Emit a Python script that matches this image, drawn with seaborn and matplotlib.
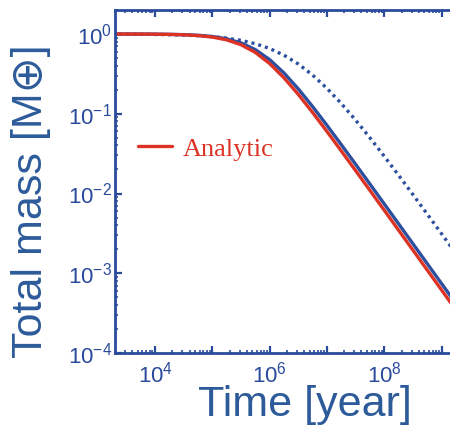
import matplotlib
matplotlib.use("Agg")
import matplotlib.pyplot as plt
import seaborn as sns
import pandas as pd
from matplotlib.ticker import FixedLocator, LogLocator, NullFormatter, FuncFormatter

# ---- data ----
time_year = [1.778e3, 3.162e3, 5.623e3, 1.0e4, 1.778e4, 3.162e4, 5.623e4,
             1.0e5, 1.778e5, 3.162e5, 5.623e5, 1.0e6, 1.778e6, 3.162e6,
             5.623e6, 1.0e7, 1.778e7, 3.162e7, 5.623e7, 1.0e8, 1.778e8,
             3.162e8, 5.623e8, 1.0e9, 1.778e9]
mass_analytic = [0.9993, 0.9985, 0.9970, 0.9941, 0.9883, 0.9770, 0.9553,
                 0.9150, 0.8445, 0.7342, 0.5870, 0.4257, 0.2821, 0.1748,
                 0.1036, 0.05990, 0.03418, 0.01935, 0.01092, 0.006156,
                 0.003464, 0.001949, 0.001096, 0.0006164, 0.0003467]
mass_solid = [0.9994, 0.9988, 0.9976, 0.9953, 0.9906, 0.9815, 0.9638,
              0.9304, 0.8710, 0.7739, 0.6370, 0.4769, 0.3246, 0.2049,
              0.1229, 0.07152, 0.04094, 0.02323, 0.01312, 0.007396,
              0.004164, 0.002343, 0.001318, 0.0007413, 0.0004168]
mass_dotted = [0.9969, 0.9950, 0.9922, 0.9876, 0.9805, 0.9695, 0.9524,
               0.9264, 0.8877, 0.8320, 0.7555, 0.6577, 0.5425, 0.4204,
               0.3050, 0.2080, 0.1344, 0.08318, 0.04990, 0.02929,
               0.01693, 0.009696, 0.005515, 0.003124, 0.001764]
x_tick_values = [1e4, 1e6, 1e8]
x_tick_labels = ["10$^{4}$", "10$^{6}$", "10$^{8}$"]
y_tick_values = [1e-4, 1e-3, 1e-2, 1e-1, 1e0]
y_tick_labels = ["10$^{\u22124}$", "10$^{\u22123}$", "10$^{\u22122}$", "10$^{\u22121}$", "10$^{0}$"]

df = pd.DataFrame({"time": time_year, "analytic": mass_analytic,
                   "solid": mass_solid, "dotted": mass_dotted})

sns.set_style("ticks")
plt.rcParams["font.family"] = ["Liberation Sans", "DejaVu Sans"]
plt.rcParams["mathtext.fontset"] = "custom"
plt.rcParams["mathtext.rm"] = "Liberation Sans"
plt.rcParams["mathtext.it"] = "Liberation Sans:italic"
plt.rcParams["mathtext.bf"] = "Liberation Sans:bold"

W, H = 450, 426
fig = plt.figure(figsize=(4.5, 4.26), dpi=100)
ax = fig.add_axes([115 / W, (H - 353) / H, (452 - 115) / W, (353 - 10) / H])

axis_col = "#2a4a9c"
label_col = "#2d5b9a"
red = "#dc3325"
blue = "#2c4f9f"

sns.lineplot(data=df, x="time", y="solid", ax=ax, color=blue, lw=2.4, label="_nolegend_")
sns.lineplot(data=df, x="time", y="dotted", ax=ax, color=blue, lw=2.4,
             linestyle=(0, (0.9, 1.2)), label="_nolegend_")
sns.lineplot(data=df, x="time", y="analytic", ax=ax, color=red, lw=2.4, label="Analytic")

ax.set_xscale("log")
ax.set_yscale("log")
ax.set_xlim(2.0e3, 1.52e9)
ax.set_ylim(1e-4, 2.0)

# ticks
ax.xaxis.set_major_locator(FixedLocator([1e4, 1e5, 1e6, 1e7, 1e8, 1e9]))
ax.xaxis.set_major_formatter(FuncFormatter(
    lambda v, p: x_tick_labels[x_tick_values.index(v)] if v in x_tick_values else ""))
ax.xaxis.set_minor_locator(LogLocator(base=10, subs=range(2, 10), numticks=20))
ax.xaxis.set_minor_formatter(NullFormatter())
ax.yaxis.set_major_locator(FixedLocator(y_tick_values))
ax.set_yticklabels(y_tick_labels)
ax.yaxis.set_minor_locator(LogLocator(base=10, subs=range(2, 10), numticks=20))
ax.yaxis.set_minor_formatter(NullFormatter())

ax.tick_params(which="major", direction="in", length=5, width=1.6, color=axis_col,
               labelcolor=axis_col, labelsize=16, top=True, right=False)
ax.tick_params(which="minor", direction="in", length=2, width=1.2, color=axis_col,
               top=True, right=False)
ax.tick_params(axis="x", which="major", pad=6)
ax.tick_params(axis="y", which="major", pad=2)

for s in ax.spines.values():
    s.set_color(axis_col)
    s.set_linewidth(2.0)

ax.set_xlabel("")
ax.set_ylabel("")
fig.text(305 / W, 1 - 416 / H, "Time [year]", ha="center", va="baseline",
         fontsize=31, color=label_col)
fig.text(31 / W, 1 - 201 / H, "Total mass [M\u2295]", ha="center", va="center",
         rotation=90, fontsize=31, color=label_col)

leg = ax.legend(loc="center left", bbox_to_anchor=(138 / W, 1 - 149 / H),
                bbox_transform=fig.transFigure, frameon=False, borderpad=0,
                borderaxespad=0, handlelength=1.3, handletextpad=0.4,
                prop={"family": "Liberation Serif", "size": 19})
for t in leg.get_texts():
    t.set_color(red)

fig.savefig("out.png", dpi=100)
